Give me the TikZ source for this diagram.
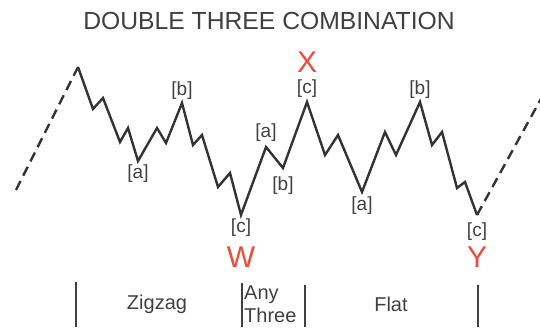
\documentclass[tikz,border=0pt]{standalone}
\usepackage{fontspec}
\setmainfont{Liberation Sans}
\usepackage{tikz}
\usetikzlibrary{positioning}
\definecolor{ink}{HTML}{333333}
\definecolor{labelgray}{HTML}{404040}
\definecolor{wavered}{HTML}{EE4B3B}

\begin{document}
\begin{tikzpicture}[
    x=1pt, y=-1pt,
    wave/.style={line width=2.4pt, draw=ink, line join=miter},
    lead/.style={line width=2.4pt, draw=ink, dash pattern=on 10pt off 6pt},
    sub/.style={font=\fontsize{19}{19}\selectfont, text=labelgray, inner sep=1pt},
    degree/.style={font=\fontsize{30}{30}\selectfont, text=wavered, inner sep=1pt},
    part/.style={font=\fontsize{20}{20}\selectfont, text=labelgray},
    bar/.style={line width=1.6pt, draw=labelgray}
  ]
    \useasboundingbox (0,0) rectangle (540,327);
    \clip (0,0) rectangle (540,327);

    \node[font=\fontsize{24.7}{24.7}\selectfont, text=labelgray] (title) at (269,21) {DOUBLE THREE COMBINATION};

    % turning points
    \coordinate (S) at (16,190);
    \coordinate (P) at (78,67);
    \coordinate (A1) at (138,161);
    \coordinate (B1) at (182,103);
    \coordinate (W) at (241,215);
    \coordinate (A2) at (266,147);
    \coordinate (B2) at (283,168);
    \coordinate (X) at (307,102);
    \coordinate (A3) at (362,192);
    \coordinate (B3) at (420,102);
    \coordinate (Y) at (477,215);
    \coordinate (E) at (548,86);

    \draw[lead] (S) -- (P);
    \draw[wave] (P) -- (93,109) -- (103,98) -- (120,142) -- (128,128) -- (A1)
      -- (157,128) -- (166,143) -- (B1)
      -- (193,145) -- (202,135) -- (218,187) -- (230,173) -- (W)
      -- (A2) -- (B2) -- (X)
      -- (325,155) -- (338,135) -- (A3)
      -- (385,132) -- (396,155) -- (B3)
      -- (432,145) -- (442,132) -- (457,188) -- (465,182) -- (Y);
    \draw[lead] (Y) -- (E);

    \node[sub, below=3pt of A1] (la1) {[a]};
    \node[sub, above=2pt of B1] (lb1) {[b]};
    \node[sub, below=3pt of W] (lc1) {[c]};
    \node[degree, below=8pt of lc1] (lW) {W};
    \node[sub, above=4pt of A2] (la2) {[a]};
    \node[sub, below=8pt of B2] (lb2) {[b]};
    \node[sub, above=3pt of X] (lc2) {[c]};
    \node[degree, above=5pt of lc2] (lX) {X};
    \node[sub, below=4pt of A3] (la3) {[a]};
    \node[sub, above=2pt of B3] (lb3) {[b]};
    \node[sub, below=7pt of Y] (lc3) {[c]};
    \node[degree, below=4pt of lc3] (lY) {Y};

    % sections
    \draw[bar] (76,282) -- (76,327);
    \draw[bar] (242,283) -- (242,327);
    \draw[bar] (305,285) -- (305,327);
    \draw[bar] (478,285) -- (478,327);

    \node[part] (zz) at (157,304) {Zigzag};
    \node[font=\fontsize{20}{23}\selectfont, text=labelgray, align=left, anchor=west, inner sep=1pt] (any) at (243,304) {Any\\Three};
    \node[part] (flat) at (391,304) {Flat};
\end{tikzpicture}
\end{document}
